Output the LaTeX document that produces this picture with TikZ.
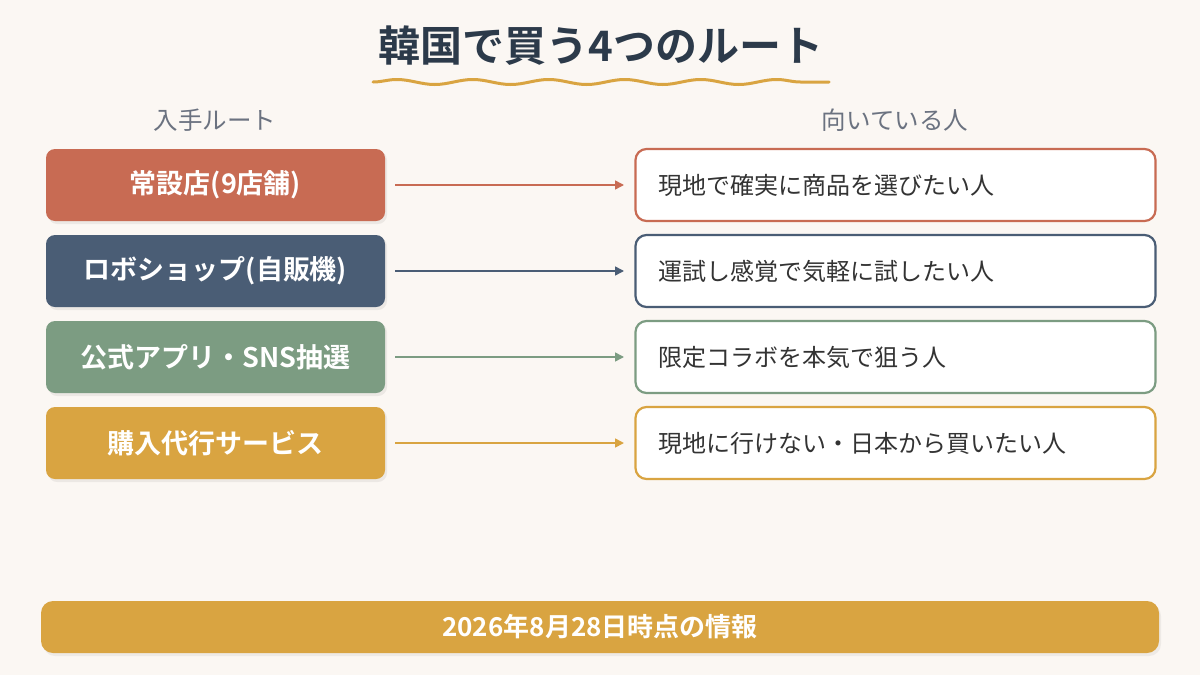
\documentclass[tikz,border=0pt]{standalone}
\usepackage{fontspec}
\setmainfont{Noto Sans CJK JP}[BoldFont={Noto Sans CJK JP Bold}]
\usetikzlibrary{decorations.pathmorphing,arrows.meta}
\definecolor{bg}{HTML}{FBF7F3}
\definecolor{cred}{HTML}{C86B53}
\definecolor{cnavy}{HTML}{4A5D75}
\definecolor{cgreen}{HTML}{7C9C82}
\definecolor{cgold}{HTML}{D9A441}
\definecolor{ctitle}{HTML}{2C3A4A}
\definecolor{chead}{HTML}{6B7280}
\definecolor{ctext}{HTML}{333333}
\tikzset{
  routebox/.style={rounded corners=9pt, minimum width=339pt, minimum height=72pt, inner sep=0pt,
    text=white, font=\fontsize{27}{31}\selectfont\bfseries},
  whobox/.style={draw=#1, line width=2.2pt, fill=white, rounded corners=11pt, minimum width=520pt,
    minimum height=72pt, inner sep=0pt},
  whotext/.style={anchor=west, text=ctext, font=\fontsize{24}{28}\selectfont},
  conn/.style={draw=#1, line width=1.6pt, -{Triangle[length=9pt,width=9pt]}},
  head/.style={text=chead, font=\fontsize{24.5}{28}\selectfont},
}
\begin{document}
\begin{tikzpicture}[x=1pt,y=-1pt]
\fill[bg] (0,0) rectangle (1200,675);
\useasboundingbox (0,0) rectangle (1200,675);
\node[text=ctitle, font=\fontsize{42}{48}\selectfont\bfseries] (title) at (601,46) {韓国で買う4つのルート};
\draw[cgold, line width=3pt, line cap=round, decorate, decoration={snake, amplitude=2.5pt, segment length=76pt}] (373,82) -- (829,82);
\node[head] (h1) at (215,120) {入手ルート};
\node[head] (h2) at (895,120) {向いている人};
\foreach \i/\c/\l/\r in {1/cred/{常設店(9店舗)}/{現地で確実に商品を選びたい人},
                         2/cnavy/{ロボショップ(自販機)}/{運試し感覚で気軽に試したい人},
                         3/cgreen/{公式アプリ・SNS抽選}/{限定コラボを本気で狙う人},
                         4/cgold/{購入代行サービス}/{現地に行けない・日本から買いたい人}}{
  \pgfmathsetmacro\yy{185+86*(\i-1)}
  \fill[black, opacity=0.06, rounded corners=9pt] (48,\yy-34) rectangle (387,\yy+39);
  \node[routebox, fill=\c] (L\i) at (215.5,\yy) {\l};
  \node[whobox=\c] (R\i) at (895.5,\yy) {};
  \node[whotext] (T\i) at (655,\yy) {\r};
  \draw[conn=\c] (L\i.east) ++(10,0) coordinate (s\i) (s\i) -- (R\i.west -| 624,0) ;
}
\fill[black, opacity=0.05, rounded corners=12pt] (43,604) rectangle (1161,656);
\node[fill=cgold, rounded corners=12pt, minimum width=1118pt, minimum height=52pt, inner sep=0pt,
  text=white, font=\fontsize{26}{30}\selectfont\bfseries] (foot) at (600,627) {2026年8月28日時点の情報};
\end{tikzpicture}
\end{document}
